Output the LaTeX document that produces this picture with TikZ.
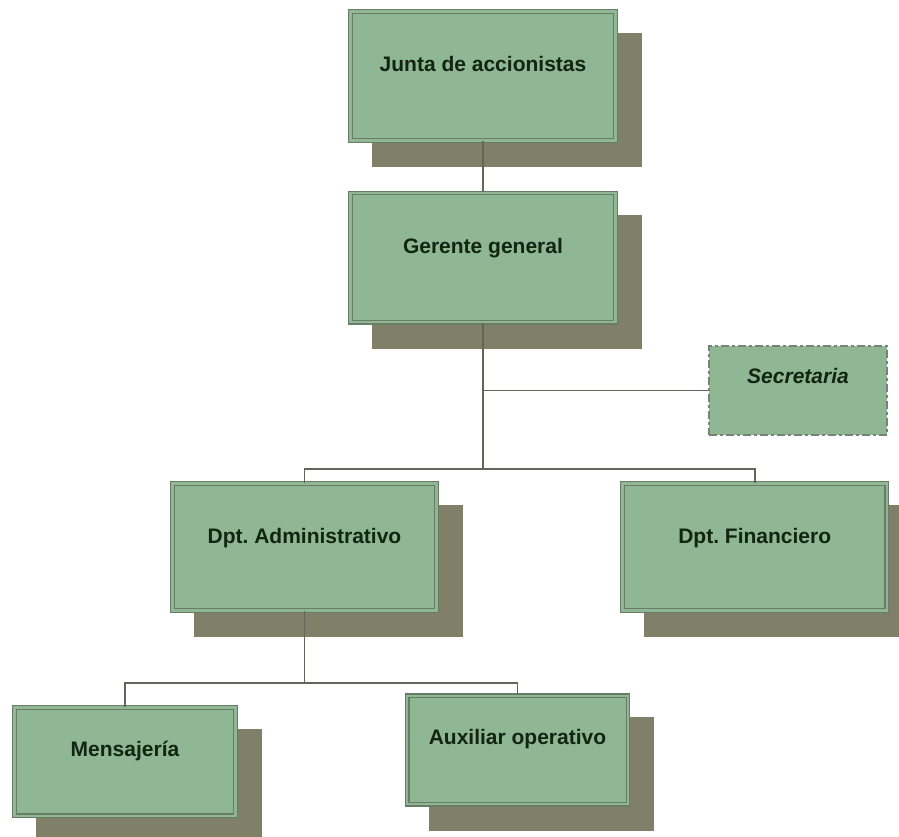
\documentclass[tikz,border=0pt]{standalone}
\usepackage{fontspec}
\newfontfamily\orgfont{Liberation Sans}
\usepackage{tikz}
\usetikzlibrary{positioning,shadows}
\definecolor{orgfill}{RGB}{143,183,147}
\definecolor{orgline}{RGB}{104,124,104}
\definecolor{orgshadow}{RGB}{128,128,104}
\definecolor{orgtext}{RGB}{18,36,18}
\definecolor{orglink}{RGB}{100,100,90}
\definecolor{orgdash}{RGB}{120,130,120}
\frenchspacing

\begin{document}
\begin{tikzpicture}[x=1pt, y=-1pt,
    box/.style={rectangle, draw=orgline, line width=1.2pt, double=orgfill, double distance=2.4pt, fill=orgfill, inner sep=0pt, text=orgtext, font=\orgfont\bfseries\fontsize{21}{25}\selectfont, drop shadow={shadow xshift=24pt, shadow yshift=-24pt, fill=orgshadow, draw=orgshadow, line width=4.8pt, opacity=1}},
    bigbox/.style={box, minimum width=265.2pt, minimum height=129.2pt, text height=60pt, text depth=69.2pt},
    dptbox/.style={box, minimum width=264.2pt, minimum height=127.2pt, text height=60.2pt, text depth=67pt},
    smallbox/.style={box, minimum width=220.8pt, minimum height=108.4pt, text height=49pt, text depth=59.4pt},
    dashbox/.style={rectangle, draw=orgdash, line width=2pt, dash pattern=on 8pt off 3pt on 3pt off 3pt, fill=orgfill, inner sep=0pt, text=orgtext, font=\orgfont\bfseries\itshape\fontsize{21}{25}\selectfont, minimum width=178pt, minimum height=89pt, text height=37.3pt, text depth=51.7pt},
    link/.style={draw=orglink, line width=1.6pt}
]
\useasboundingbox (0,0) rectangle (899,837);
\clip (0,0) rectangle (899,837);

\node[bigbox] (junta) at (483,76) {Junta de accionistas};
\node[bigbox, below=51.2pt of junta] (gerente) {Gerente general};
\node[dashbox] (secretaria) at (798,390.5) {Secretaria};
\node[dptbox] (dptadmin) at (304.5,547) {Dpt. Administrativo};
\node[dptbox, right=184.8pt of dptadmin] (dptfin) {Dpt. Financiero};
\node[smallbox] (mensajeria) at (125,761.5) {Mensajería};
\node[smallbox] (auxiliar) at (517.5,750) {Auxiliar operativo};

\coordinate (bus1) at (483,469);
\coordinate (bus2) at (304.5,683);

\draw[link] (junta) -- (gerente);
\draw[link] (gerente.south) -- (bus1);
\draw[link] (secretaria.west) -- (secretaria.west -| gerente.south);
\draw[link] (dptadmin.north) |- (bus1) -| (dptfin.north);
\draw[link] (dptadmin.south) -- (bus2);
\draw[link] (mensajeria.north) |- (bus2) -| (auxiliar.north);

\end{tikzpicture}
\end{document}
